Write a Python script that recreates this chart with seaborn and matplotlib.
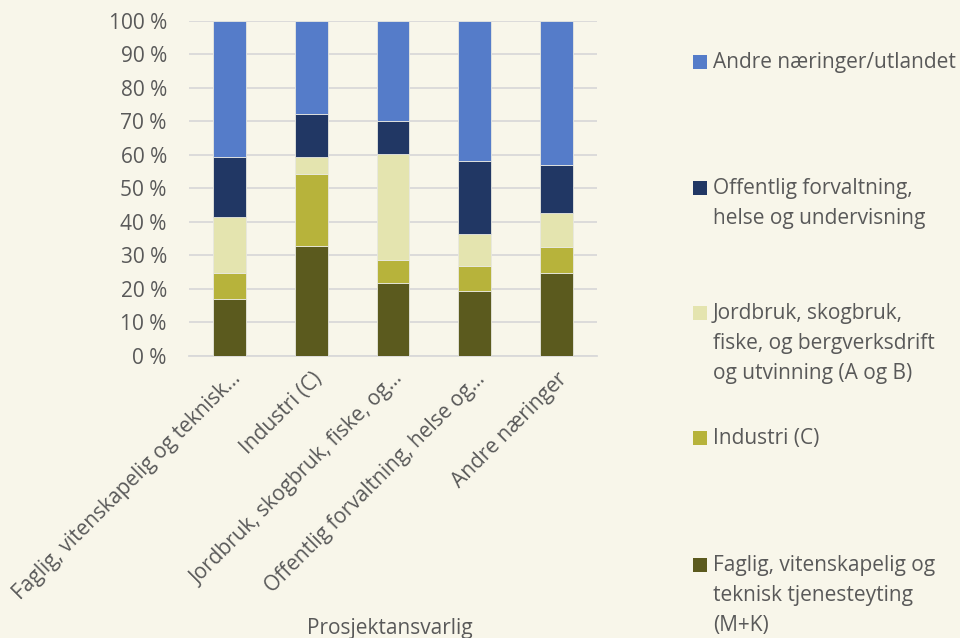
import matplotlib
matplotlib.use('Agg')
import matplotlib.pyplot as plt
from matplotlib.patches import Rectangle
from matplotlib.ticker import FuncFormatter
import numpy as np
import seaborn as sns

# categories on the x axis (as shown, truncated by the original chart)
categories = ['Faglig, vitenskapelig og teknisk…', 'Industri (C)',
              'Jordbruk, skogbruk, fiske, og…', 'Offentlig forvaltning, helse og…',
              'Andre næringer']

# stacked series, bottom to top (percent)
faglig = [17.0, 32.8, 21.8, 19.4, 24.8]
industri = [7.8, 21.5, 6.9, 7.4, 7.6]
jordbruk = [16.7, 4.9, 31.4, 9.4, 10.3]
offentlig = [17.8, 13.0, 10.1, 21.8, 14.2]
andre = [40.7, 27.8, 29.8, 42.0, 43.1]

series_names = ['Faglig, vitenskapelig og\nteknisk tjenesteyting\n(M+K)',
                'Industri (C)',
                'Jordbruk, skogbruk,\nfiske, og bergverksdrift\nog utvinning (A og B)',
                'Offentlig forvaltning,\nhelse og undervisning',
                'Andre næringer/utlandet']
series_colors = ['#5B5A1E', '#B7B33B', '#E4E4AF', '#213764', '#557CC9']

bg = '#F8F6EA'
txt = '#595959'
grid = '#D9D9D9'
fs = 15

sns.set_theme(style='white')
plt.rcParams['font.family'] = ['Open Sans', 'DejaVu Sans']

fig = plt.figure(figsize=(9.6, 6.38), dpi=100, facecolor=bg)
ax = fig.add_axes([189 / 960, 1 - 355.7 / 638, 408 / 960, 335 / 638])
ax.set_facecolor(bg)

bottom = np.zeros(len(categories))
for vals, col in zip([faglig, industri, jordbruk, offentlig, andre], series_colors):
    sns.barplot(x=categories, y=vals, bottom=bottom, color=col, width=0.4,
                errorbar=None, saturation=1, edgecolor='#E8E8E0', linewidth=0.6,
                ax=ax, zorder=3)
    bottom = bottom + np.array(vals)

ax.set_xlim(-0.5, len(categories) - 0.5)
ax.set_ylim(0, 100)
ax.set_yticks(np.arange(0, 101, 10))
ax.yaxis.set_major_formatter(FuncFormatter(lambda v, p: '{:d} %'.format(int(round(v)))))
ax.grid(axis='y', color=grid, linewidth=1.3, zorder=0)
ax.set_axisbelow(True)
for s in ['top', 'right', 'left']:
    ax.spines[s].set_visible(False)
ax.spines['bottom'].set_color(grid)
ax.spines['bottom'].set_linewidth(1.3)

ax.set_xticks(range(len(categories)))
ax.set_xticklabels(categories, rotation=45, ha='right', rotation_mode='anchor')
ax.set_xticks(np.arange(-0.5, len(categories), 1), minor=True)
ax.tick_params(axis='x', which='major', length=0, pad=9, labelsize=fs, labelcolor=txt)
ax.tick_params(axis='x', which='minor', length=7, width=1.3, color=grid)
ax.tick_params(axis='y', length=0, pad=16, labelsize=fs, labelcolor=txt)

ax.set_xlabel('Prosjektansvarlig', fontsize=fs, color=txt)
ax.xaxis.set_label_coords(0.493, -0.815)
ax.xaxis.label.set_va('center')
ax.set_ylabel('')

# legend on the right, top series first, handle aligned to first line
legend_y = [62, 188, 313, 438, 565]
for name, col, y in zip(series_names[::-1], series_colors[::-1], legend_y):
    fig.patches.append(Rectangle((693 / 960, 1 - (y + 7) / 638), 14 / 960, 14 / 638,
                                 transform=fig.transFigure, facecolor=col, edgecolor='none'))
    fig.text(713 / 960, 1 - (y - 10) / 638, name, fontsize=fs, color=txt,
             va='top', ha='left', linespacing=1.55)

fig.savefig('out.png', dpi=100, facecolor=bg)
